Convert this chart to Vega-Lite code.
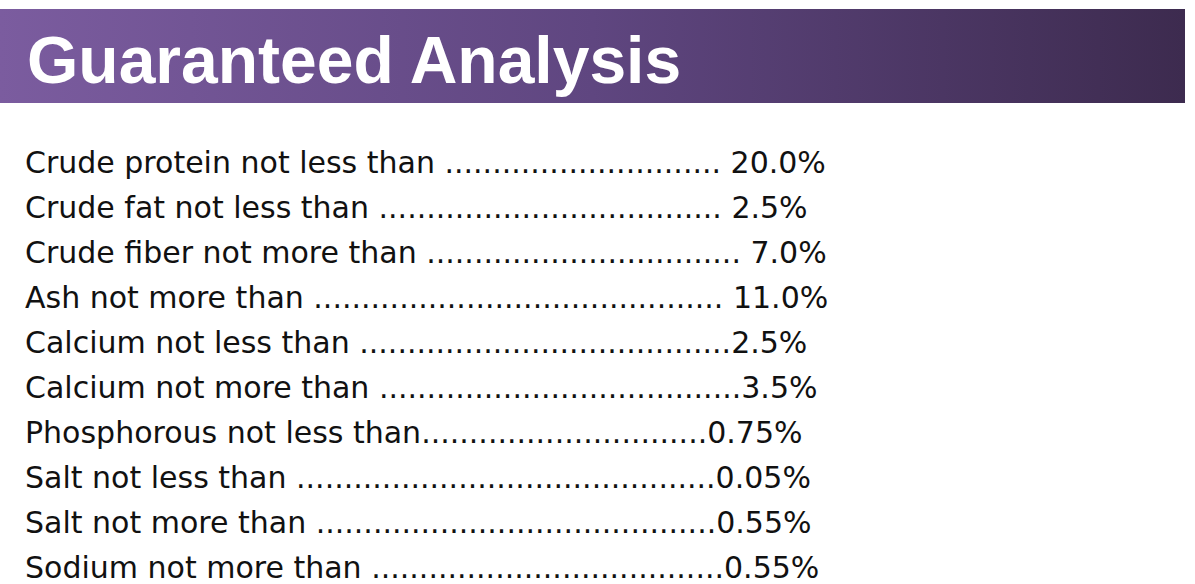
{
  "$schema": "https://vega.github.io/schema/vega-lite/v6.json",
  "width": 1195,
  "height": 584,
  "autosize": {"type": "fit", "contains": "padding"},
  "padding": 0,
  "background": "#ffffff",
  "config": {"view": {"stroke": null}},
  "datasets": {
    "header": [{"title": "Guaranteed Analysis"}],
    "lines": [
      {"row": 1, "nutrient": "Crude protein", "limit": "not less than", "value": "20.0%", "line": "Crude protein not less than ............................. 20.0%"},
      {"row": 2, "nutrient": "Crude fat", "limit": "not less than", "value": "2.5%", "line": "Crude fat not less than .................................... 2.5%"},
      {"row": 3, "nutrient": "Crude fiber", "limit": "not more than", "value": "7.0%", "line": "Crude fiber not more than ................................. 7.0%"},
      {"row": 4, "nutrient": "Ash", "limit": "not more than", "value": "11.0%", "line": "Ash not more than ........................................... 11.0%"},
      {"row": 5, "nutrient": "Calcium", "limit": "not less than", "value": "2.5%", "line": "Calcium not less than .......................................2.5%"},
      {"row": 6, "nutrient": "Calcium", "limit": "not more than", "value": "3.5%", "line": "Calcium not more than ......................................3.5%"},
      {"row": 7, "nutrient": "Phosphorous", "limit": "not less than", "value": "0.75%", "line": "Phosphorous not less than..............................0.75%"},
      {"row": 8, "nutrient": "Salt", "limit": "not less than", "value": "0.05%", "line": "Salt not less than ............................................0.05%"},
      {"row": 9, "nutrient": "Salt", "limit": "not more than", "value": "0.55%", "line": "Salt not more than ..........................................0.55%"},
      {"row": 10, "nutrient": "Sodium", "limit": "not more than", "value": "0.55%", "line": "Sodium not more than .....................................0.55%"}
    ]
  },
  "layer": [
    {
      "data": {"name": "header"},
      "mark": {
        "type": "rect",
        "color": {
          "gradient": "linear",
          "x1": 0, "x2": 1, "y1": 0, "y2": 0,
          "stops": [
            {"offset": 0, "color": "#7b5c9f"},
            {"offset": 0.5, "color": "#5f4680"},
            {"offset": 1, "color": "#3d2b4f"}
          ]
        }
      },
      "encoding": {
        "x": {"value": 0},
        "x2": {"value": 1185},
        "y": {"value": 9},
        "y2": {"value": 103}
      }
    },
    {
      "data": {"name": "header"},
      "mark": {
        "type": "text",
        "font": "Liberation Sans",
        "fontWeight": "bold",
        "fontSize": 66,
        "color": "#ffffff",
        "align": "left",
        "baseline": "alphabetic"
      },
      "encoding": {
        "x": {"value": 27},
        "y": {"value": 83},
        "text": {"field": "title"}
      }
    },
    {
      "data": {"name": "lines"},
      "mark": {
        "type": "text",
        "font": "DejaVu Sans",
        "fontSize": 30,
        "color": "#111111",
        "align": "left",
        "baseline": "alphabetic"
      },
      "encoding": {
        "x": {"value": 25},
        "y": {
          "field": "row",
          "type": "ordinal",
          "scale": {"type": "point", "range": [173, 578], "padding": 0},
          "axis": null
        },
        "text": {"field": "line"}
      }
    }
  ]
}
